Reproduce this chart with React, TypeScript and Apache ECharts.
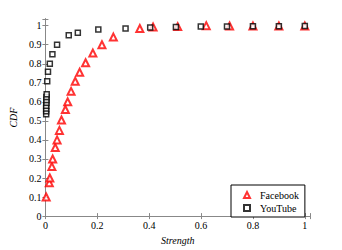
import React, { useEffect, useRef } from "react";
import * as echarts from "echarts";

const facebookX = [0.003, 0.015, 0.017, 0.025, 0.028, 0.038, 0.045, 0.054, 0.062, 0.077, 0.086, 0.099, 0.115, 0.132, 0.155, 0.183, 0.218, 0.262, 0.364, 0.415, 0.51, 0.62, 0.71, 0.8, 0.9, 1.0];
const facebookY = [0.1, 0.175, 0.2, 0.26, 0.3, 0.36, 0.4, 0.45, 0.505, 0.56, 0.6, 0.655, 0.708, 0.755, 0.805, 0.856, 0.9, 0.94, 0.985, 0.993, 0.995, 1.0, 0.998, 0.998, 0.998, 0.998];

const youtubeX = [0.003, 0.003, 0.003, 0.003, 0.004, 0.004, 0.004, 0.005, 0.007, 0.01, 0.017, 0.027, 0.045, 0.09, 0.125, 0.204, 0.309, 0.404, 0.503, 0.599, 0.7, 0.8, 0.9, 1.0];
const youtubeY = [0.535, 0.55, 0.565, 0.58, 0.595, 0.61, 0.625, 0.64, 0.708, 0.758, 0.8, 0.85, 0.9, 0.95, 0.963, 0.98, 0.985, 0.99, 0.993, 0.995, 0.995, 0.997, 0.997, 0.998];

const FONT = "Liberation Serif";

export default function App() {
  const ref = useRef<HTMLDivElement>(null);
  useEffect(() => {
    const chart = echarts.init(ref.current!, null, { renderer: "svg" });
    const fb = facebookX.map((x, i) => [x, facebookY[i]]);
    const yt = youtubeX.map((x, i) => [x, youtubeY[i]]);
    chart.setOption({
      animation: false,
      backgroundColor: "#fff",
      grid: { left: 44, right: 32, top: 19, bottom: 28 },
      legend: {
        orient: "vertical",
        left: 231,
        top: 185,
        padding: [5, 6, 4, 12],
        itemWidth: 6,
        itemHeight: 6,
        itemGap: 3,
        borderColor: "#000",
        borderWidth: 1,
        backgroundColor: "#fff",
        textStyle: { fontFamily: FONT, fontSize: 10, color: "#000", padding: [0, 0, 0, 5] },
        data: ["Facebook", "YouTube"],
      },
      xAxis: [
        {
          type: "value",
          min: 0,
          max: 1.02,
          interval: 0.2,
          name: "Strength",
          nameLocation: "middle",
          nameGap: 12,
          nameTextStyle: { fontFamily: FONT, fontStyle: "italic", fontSize: 10, color: "#000" },
          axisLine: { lineStyle: { color: "#888", width: 1 } },
          axisTick: { inside: true, length: 3, lineStyle: { color: "#888" } },
          axisLabel: {
            fontFamily: FONT,
            fontSize: 10,
            color: "#000",
            margin: 4,
            formatter: (v: number) => (v > 1.001 ? "" : String(+v.toFixed(1))),
          },
          splitLine: { show: false },
        },
        {
          type: "value",
          position: "top",
          min: 0,
          max: 1.02,
          interval: 0.2,
          axisLine: { lineStyle: { color: "#888", width: 1 } },
          axisTick: { inside: true, length: 3, lineStyle: { color: "#888" } },
          axisLabel: { show: false },
          splitLine: { show: false },
        },
      ],
      yAxis: [
        {
          type: "value",
          min: 0,
          max: 1.035,
          interval: 0.1,
          name: "CDF",
          nameLocation: "middle",
          nameGap: 15,
          nameTextStyle: { fontFamily: FONT, fontStyle: "italic", fontSize: 10, color: "#000" },
          axisLine: { show: true, lineStyle: { color: "#222", width: 1 } },
          axisTick: { show: true, inside: true, length: 3, lineStyle: { color: "#888" } },
          axisLabel: {
            fontFamily: FONT,
            fontSize: 10,
            color: "#000",
            margin: 4,
            formatter: (v: number) => (v > 1.001 ? "" : String(+v.toFixed(1))),
          },
          splitLine: { show: false },
        },
        {
          type: "value",
          position: "right",
          min: 0,
          max: 1.035,
          interval: 0.1,
          axisLine: { show: true, lineStyle: { color: "#888", width: 1 } },
          axisTick: { show: true, inside: true, length: 3, lineStyle: { color: "#888" } },
          axisLabel: { show: false },
          splitLine: { show: false },
        },
      ],
      series: [
        {
          name: "Facebook",
          type: "scatter",
          data: fb,
          symbol: "triangle",
          symbolSize: 7,
          itemStyle: { color: "#fff", borderColor: "#f00", borderWidth: 2 },
          z: 2,
        },
        {
          name: "YouTube",
          type: "scatter",
          data: yt,
          symbol: "rect",
          symbolSize: 5,
          itemStyle: { color: "#fff", borderColor: "#000", borderWidth: 1.5 },
          z: 3,
        },
      ],
    });
    return () => chart.dispose();
  }, []);
  return (
    <div
      ref={ref}
      style={{ position: "fixed", left: 0, top: 0, width: 342, height: 250 }}
    />
  );
}
